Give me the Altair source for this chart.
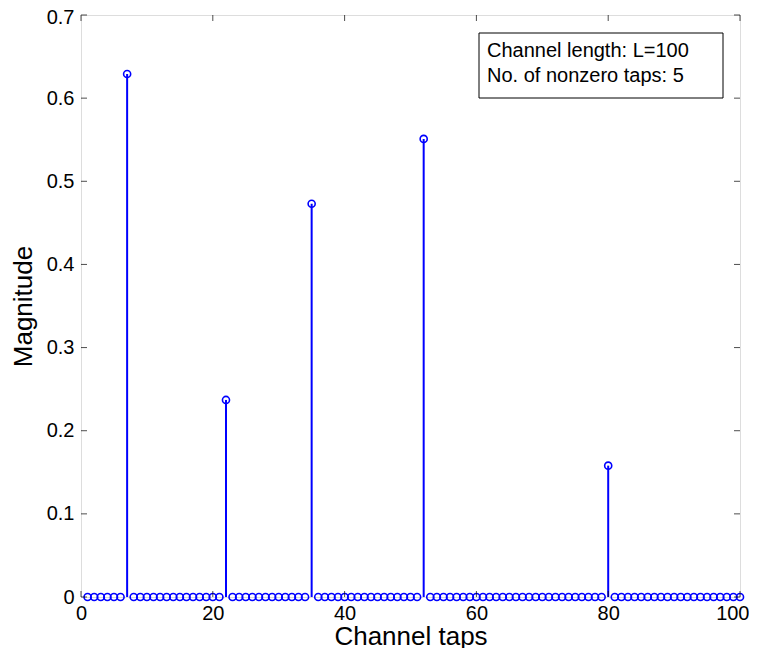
import altair as alt
import pandas as pd

taps = list(range(1, 101))
nonzero_taps = [7, 22, 35, 52, 80]
nonzero_vals = [0.629, 0.237, 0.473, 0.551, 0.158]
x_ticks = [0, 20, 40, 60, 80, 100]
y_ticks = [0, 0.1, 0.2, 0.3, 0.4, 0.5, 0.6, 0.7]
legend_lines = ["Channel length: L=100", "No. of nonzero taps: 5"]

mag = {t: 0.0 for t in taps}
for t, v in zip(nonzero_taps, nonzero_vals):
    mag[t] = v
df = pd.DataFrame({"tap": taps, "mag": [mag[t] for t in taps]})
dfx = pd.DataFrame({"t": x_ticks})
dfy = pd.DataFrame({"t": y_ticks})

FONT = "Liberation Sans"
xs = alt.Scale(domain=[0, 100], nice=False, zero=False)
ys = alt.Scale(domain=[0, 0.7], nice=False, zero=False)

xaxis = alt.Axis(values=x_ticks, ticks=False, domain=False, grid=False, labelFontSize=20,
                 labelFont=FONT, labelColor="black", labelPadding=6, title="Channel taps",
                 titleFont=FONT, titleFontSize=26, titleFontWeight="normal", titleColor="black",
                 titlePadding=0, labelFlush=False, format="d",
                 labelAlign=alt.expr("datum.value == 100 ? 'right' : 'center'"),
                 labelOffset=alt.expr("datum.value == 100 ? 9 : 0"))
yaxis = alt.Axis(values=y_ticks, ticks=False, domain=False, grid=False, labelFontSize=20,
                 labelFont=FONT, labelColor="black", labelPadding=7, title="Magnitude",
                 titleFont=FONT, titleFontSize=26, titleFontWeight="normal", titleColor="black",
                 titlePadding=10, labelFlush=False, format=".1~f",
                 labelOffset=alt.expr("datum.value > 0.65 ? 2 : 0"))

stems = alt.Chart(df).mark_rule(color="#0000ff", strokeWidth=2).encode(
    x=alt.X("tap:Q", scale=xs, axis=xaxis),
    y=alt.Y("mag:Q", scale=ys, axis=yaxis),
    y2=alt.Y2(datum=0),
)
pts = alt.Chart(df).mark_point(shape="circle", filled=False, color="#0000ff", size=50,
                               strokeWidth=1.6, opacity=1).encode(
    x=alt.X("tap:Q", scale=xs), y=alt.Y("mag:Q", scale=ys))

tb = alt.Chart(dfx).mark_tick(orient="vertical", size=6, thickness=1, color="black", yOffset=-3).encode(
    x=alt.X("t:Q", scale=xs), y=alt.Y(datum=0, scale=ys))
tt = alt.Chart(dfx).mark_tick(orient="vertical", size=6, thickness=1, color="black", yOffset=3).encode(
    x=alt.X("t:Q", scale=xs), y=alt.Y(datum=0.7, scale=ys))
tl = alt.Chart(dfy).mark_tick(orient="horizontal", size=6, thickness=1, color="black", xOffset=3).encode(
    y=alt.Y("t:Q", scale=ys), x=alt.X(datum=0, scale=xs))
tr = alt.Chart(dfy).mark_tick(orient="horizontal", size=6, thickness=1, color="black", xOffset=-3).encode(
    y=alt.Y("t:Q", scale=ys), x=alt.X(datum=100, scale=xs))

box = alt.Chart(pd.DataFrame({"a": [0]})).mark_rect(fill="white", stroke="black", strokeWidth=1).encode(
    x=alt.value(398), x2=alt.value(642), y=alt.value(18), y2=alt.value(83))
leg = alt.Chart(pd.DataFrame({"line": legend_lines, "yy": [42, 67]})).mark_text(
    align="left", baseline="alphabetic", font=FONT, fontSize=20, color="black").encode(
    text="line:N", x=alt.value(406), y=alt.Y("yy:Q", scale=None))

chart = alt.layer(stems, pts, tb, tt, tl, tr, box, leg).properties(
    width=659, height=582,
    padding={"left": 73, "top": 7, "right": 9, "bottom": 51},
    autosize=alt.AutoSizeParams(type="none"),
).configure_view(stroke="black", strokeWidth=1).configure(background="white")

chart.save("out.html", embed_options={"renderer": "svg", "actions": False})
